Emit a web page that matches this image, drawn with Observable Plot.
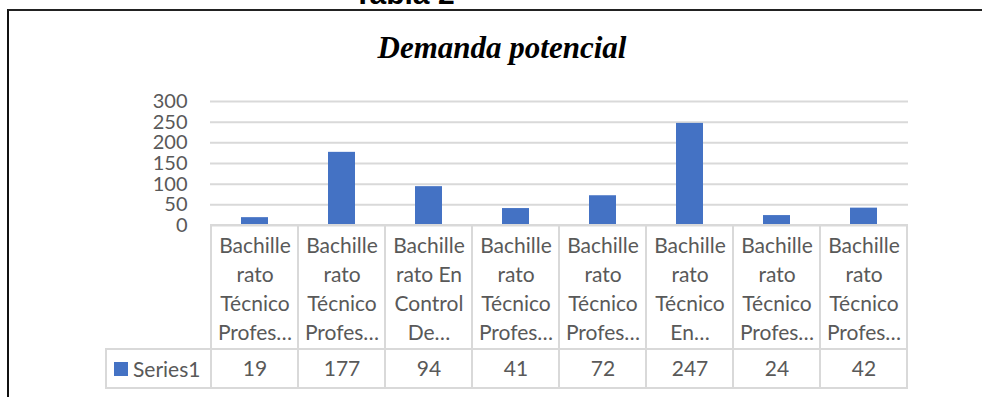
<!DOCTYPE html>
<html>
<head>
<meta charset="utf-8">
<script src="https://cdn.jsdelivr.net/npm/d3@7"></script>
<script src="https://cdn.jsdelivr.net/npm/@observablehq/plot@0.6"></script>
<style>
  body { margin: 0; background: #fff; }
  #wrap { position: relative; width: 982px; height: 397px; overflow: hidden; background: #fff; font-family: Lato, sans-serif; }
  #caption { position: absolute; left: 304px; width: 200px; top: -21px; text-align: center; font: bold 30px/30px "Liberation Sans", Arial, sans-serif; color: #000; white-space: nowrap; }
  #box { position: absolute; left: 7px; top: 9px; right: -10px; bottom: -10px; border-top: 2px solid #222; border-left: 2px solid #111; }
  #title { position: absolute; left: 302px; width: 400px; top: 32px; text-align: center; font: italic bold 31px/31px "Liberation Serif", "Times New Roman", serif; color: #000; white-space: nowrap; }
  .layer { position: absolute; left: 0; }
  .layer svg { display: block; overflow: visible; }
  #legend { position: absolute; left: 105px; top: 348px; width: 107px; height: 41px; box-sizing: border-box; border: 2px solid #d9d9d9; border-right: none; display: flex; align-items: center; padding-left: 7px; }
  #legend > div { min-height: 0 !important; margin: 0 !important; }
  #legend span { margin-right: 0 !important; font-size: 21px; color: #595959; font-family: Lato, sans-serif; }
  #legend svg { margin-right: 5px !important; }
</style>
</head>
<body>
<div id="wrap">
  <div id="box"></div>
  <div id="caption">Tabla 2</div>
  <div id="title">Demanda potencial</div>
  <div id="chart" class="layer" style="top:0px"></div>
  <div id="header" class="layer" style="top:224px"></div>
  <div id="valuesRow" class="layer" style="top:348px"></div>
  <div id="legend"></div>
</div>
<script>
// Category names as they wrap (and get cut off) in the data-table cells
const categoryLabels = [
  "Bachille\nrato\nTécnico\nProfes…",
  "Bachille\nrato\nTécnico\nProfes…",
  "Bachille\nrato En\nControl\nDe…",
  "Bachille\nrato\nTécnico\nProfes…",
  "Bachille\nrato\nTécnico\nProfes…",
  "Bachille\nrato\nTécnico\nEn…",
  "Bachille\nrato\nTécnico\nProfes…",
  "Bachille\nrato\nTécnico\nProfes…"
];
const values = [19, 177, 94, 41, 72, 247, 24, 42];
const yTicks = [0, 50, 100, 150, 200, 250, 300];
const seriesName = "Series1";

// Several categories share the same visible label, so key them by position
const rows = values.map((v, i) => ({key: i, label: categoryLabels[i], value: v}));
const keys = rows.map(d => d.key);

const W = 982, left = 210, right = 74;
const textColor = "#595959", lineColor = "#d9d9d9", barColor = "#4472C4";
const baseStyle = {fontFamily: "Lato, sans-serif", fontSize: "21px", color: textColor, background: "transparent", overflow: "visible"};

// Column chart with light horizontal gridlines
const chart = Plot.plot({
  width: W, height: 226,
  marginLeft: left, marginRight: right, marginTop: 101, marginBottom: 1,
  style: {...baseStyle, fontSize: "20px"},
  x: {domain: keys, paddingInner: 0.69, paddingOuter: 0.345, axis: null},
  y: {domain: [0, 300], ticks: yTicks, tickSize: 0, tickPadding: 23, label: null},
  marks: [
    Plot.ruleY(yTicks, {stroke: lineColor, strokeWidth: 2}),
    Plot.barY(rows, {x: "key", y: "value", fill: barColor})
  ]
});
document.getElementById("chart").append(chart);

// Data table: category-name row
const header = Plot.plot({
  width: W, height: 126,
  marginLeft: left, marginRight: right, marginTop: 1, marginBottom: 1,
  style: baseStyle,
  x: {domain: keys, padding: 0, axis: null},
  marks: [
    Plot.cell(rows, {x: "key", fill: "none", stroke: lineColor, strokeWidth: 2, inset: 0}),
    Plot.text(rows, {x: "key", text: "label", frameAnchor: "top", lineAnchor: "top", dy: 7, lineHeight: 29 / 21, fill: textColor})
  ]
});
document.getElementById("header").append(header);

// Data table: value row
const valueRow = Plot.plot({
  width: W, height: 41,
  marginLeft: left, marginRight: right, marginTop: 1, marginBottom: 1,
  style: baseStyle,
  x: {domain: keys, padding: 0, axis: null},
  marks: [
    Plot.cell(rows, {x: "key", fill: "none", stroke: lineColor, strokeWidth: 2, inset: 0}),
    Plot.text(rows, {x: "key", text: d => String(d.value), frameAnchor: "middle", fill: textColor})
  ]
});
document.getElementById("valuesRow").append(valueRow);

// Series key in the table's first column
const key = Plot.legend({
  color: {type: "categorical", domain: [seriesName], range: [barColor]},
  legend: "swatches",
  swatchSize: 14,
  style: {fontFamily: "Lato, sans-serif", fontSize: "21px", color: textColor}
});
document.getElementById("legend").append(key);
</script>
</body>
</html>
